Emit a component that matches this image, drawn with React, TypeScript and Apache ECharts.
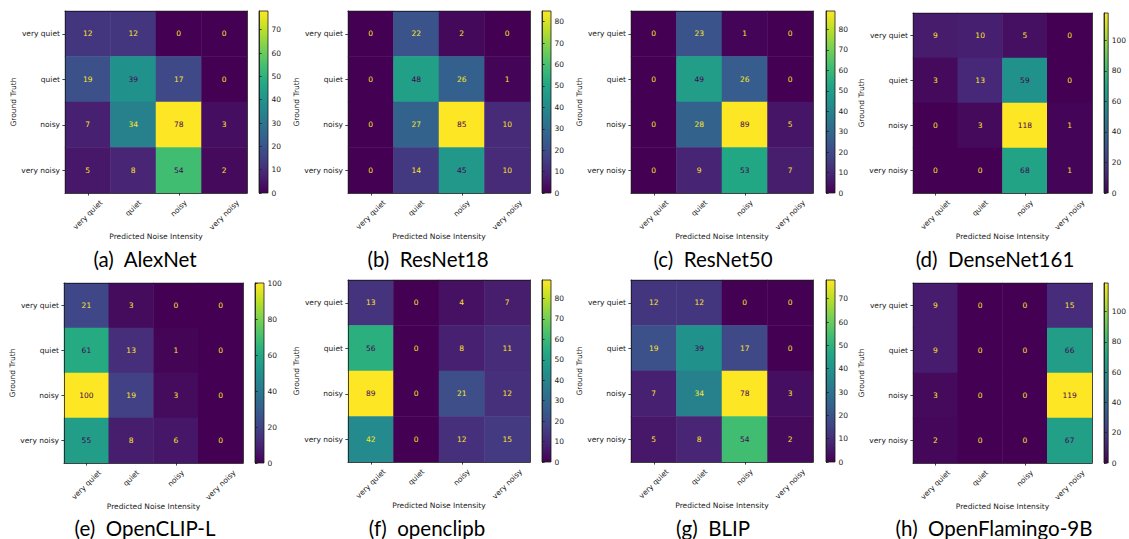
import React, { useEffect, useRef } from "react";
import * as echarts from "echarts";

// ---------------- data ----------------
const CLASSES = ["very quiet", "quiet", "noisy", "very noisy"];
const X_NAME = "Predicted Noise Intensity";
const Y_NAME = "Ground Truth";

const LETTERS = ["(a)", "(b)", "(c)", "(d)", "(e)", "(f)", "(g)", "(h)"];
const MODELS = ["AlexNet", "ResNet18", "ResNet50", "DenseNet161", "OpenCLIP-L", "openclipb", "BLIP", "OpenFlamingo-9B"];

// rows = ground truth, columns = predicted
const ALEXNET = [[12, 12, 0, 0], [19, 39, 17, 0], [7, 34, 78, 3], [5, 8, 54, 2]];
const RESNET18 = [[0, 22, 2, 0], [0, 48, 26, 1], [0, 27, 85, 10], [0, 14, 45, 10]];
const RESNET50 = [[0, 23, 1, 0], [0, 49, 26, 0], [0, 28, 89, 5], [0, 9, 53, 7]];
const DENSENET161 = [[9, 10, 5, 0], [3, 13, 59, 0], [0, 3, 118, 1], [0, 0, 68, 1]];
const OPENCLIP_L = [[21, 3, 0, 0], [61, 13, 1, 0], [100, 19, 3, 0], [55, 8, 6, 0]];
const OPENCLIPB = [[13, 0, 4, 7], [56, 0, 8, 11], [89, 0, 21, 12], [42, 0, 12, 15]];
const BLIP = [[12, 12, 0, 0], [19, 39, 17, 0], [7, 34, 78, 3], [5, 8, 54, 2]];
const OPENFLAMINGO = [[9, 0, 0, 15], [9, 0, 0, 66], [3, 0, 0, 119], [2, 0, 0, 67]];

const MATRICES = [ALEXNET, RESNET18, RESNET50, DENSENET161, OPENCLIP_L, OPENCLIPB, BLIP, OPENFLAMINGO];
const CB_STEPS = [10, 10, 10, 20, 20, 10, 10, 20];

// ---------------- style / layout ----------------
const VIRIDIS = ["#440154", "#482475", "#414487", "#355f8d", "#2a788e", "#21918c", "#22a884", "#44bf70", "#7ad151", "#bddf26", "#fde725"];
const FONT = "DejaVu Sans";
const CAP_FONT = "Lato";
const SMALL = 7.5;
const INK = "#1a1a1a";
const CB_W = 9;

const LAYOUT = [
  { left: 65, top: 11, w: 182, h: 182, cb: 259, capX: 145, capY: 259 },
  { left: 348, top: 11, w: 182, h: 182, cb: 542, capX: 428, capY: 259 },
  { left: 631, top: 11, w: 182, h: 182, cb: 826, capX: 713, capY: 259 },
  { left: 913, top: 13, w: 179, h: 180, cb: 1104, capX: 995, capY: 259 },
  { left: 64, top: 283, w: 179, h: 180, cb: 255, capX: 145, capY: 528 },
  { left: 348, top: 280, w: 182, h: 182, cb: 542, capX: 427, capY: 528 },
  { left: 631, top: 280, w: 182, h: 182, cb: 826, capX: 713, capY: 528 },
  { left: 913, top: 283, w: 179, h: 180, cb: 1104, capX: 994, capY: 528 },
];

export default function App() {
  const ref = useRef<HTMLDivElement>(null);

  useEffect(() => {
    const chart = echarts.init(ref.current!, null, { renderer: "svg" });
    const grid: any[] = [];
    const xAxis: any[] = [];
    const yAxis: any[] = [];
    const series: any[] = [];
    const visualMap: any[] = [];
    const lineStyle = { color: INK, width: 0.8 };
    const heatXAxisIdx: number[] = [];

    MATRICES.forEach((mat, i) => {
      const L = LAYOUT[i];
      const maxV = Math.max(...mat.flat());
      const thresh = maxV / 2;
      const step = CB_STEPS[i];

      const hg = grid.length;
      grid.push({ left: L.left, top: L.top, width: L.w, height: L.h });
      const cg = grid.length;
      grid.push({
        left: L.cb, top: L.top, width: CB_W, height: L.h, show: true,
        backgroundColor: new echarts.graphic.LinearGradient(0, 1, 0, 0,
          VIRIDIS.map((c, k) => ({ offset: k / (VIRIDIS.length - 1), color: c }))),
        borderColor: INK, borderWidth: 0.8,
      });

      const xi = xAxis.length;
      heatXAxisIdx.push(xi);
      xAxis.push({
        type: "category", gridIndex: hg, data: CLASSES, position: "bottom", z: 5,
        axisLine: { show: true, lineStyle },
        axisTick: { show: true, alignWithLabel: true, length: 2.6, lineStyle },
        axisLabel: { show: false },
        splitLine: { show: false },
        name: X_NAME, nameLocation: "middle", nameGap: 39,
        nameTextStyle: { fontSize: SMALL, fontFamily: FONT, color: INK },
      });
      xAxis.push({
        type: "value", gridIndex: hg, position: "top", min: 0, max: 1, z: 5,
        axisLine: { show: true, lineStyle }, axisTick: { show: false },
        axisLabel: { show: false }, splitLine: { show: false },
      });
      xAxis.push({ type: "value", gridIndex: cg, show: false, min: 0, max: 1 });

      const yi = yAxis.length;
      yAxis.push({
        type: "category", gridIndex: hg, data: CLASSES, inverse: true, position: "left", z: 5,
        axisLine: { show: true, lineStyle },
        axisTick: { show: true, alignWithLabel: true, length: 2.6, lineStyle },
        axisLabel: { fontSize: SMALL, fontFamily: FONT, color: INK, margin: 5 },
        splitLine: { show: false },
        name: Y_NAME, nameLocation: "middle", nameGap: 48,
        nameTextStyle: { fontSize: SMALL, fontFamily: FONT, color: INK },
      });
      yAxis.push({
        type: "value", gridIndex: hg, position: "right", min: 0, max: 1, z: 5,
        axisLine: { show: true, lineStyle }, axisTick: { show: false },
        axisLabel: { show: false }, splitLine: { show: false },
      });
      const ticks: number[] = [];
      for (let v = 0; v <= maxV; v += step) ticks.push(v);
      yAxis.push({
        type: "value", gridIndex: cg, position: "right", min: 0, max: maxV, interval: step,
        axisLine: { show: true, lineStyle },
        axisTick: { show: true, length: 2.6, lineStyle, customValues: ticks },
        axisLabel: {
          fontSize: SMALL, fontFamily: FONT, color: INK, margin: 3.5, customValues: ticks,
          showMaxLabel: true, showMinLabel: true,
        },
        splitLine: { show: false },
      });

      const data: any[] = [];
      mat.forEach((row, r) =>
        row.forEach((v, c) =>
          data.push({
            value: [c, r, v],
            label: { color: v < thresh ? VIRIDIS[VIRIDIS.length - 1] : VIRIDIS[0] },
          })
        )
      );
      series.push({
        type: "heatmap", xAxisIndex: xi, yAxisIndex: yi, data,
        label: { show: true, fontSize: SMALL, fontFamily: FONT, formatter: (p: any) => String(p.value[2]) },
        emphasis: { disabled: true },
      });
      visualMap.push({
        type: "continuous", show: false, seriesIndex: series.length - 1, dimension: 2,
        min: 0, max: maxV, inRange: { color: VIRIDIS },
      });
    });

    chart.setOption({ animation: false, grid, xAxis, yAxis, series, visualMap });

    // rotated x tick labels (centred on the tick like matplotlib) and captions
    const ctx = document.createElement("canvas").getContext("2d")!;
    ctx.font = `${SMALL}px "${FONT}"`;
    const graphics: any[] = [];
    MATRICES.forEach((_, i) => {
      const L = LAYOUT[i];
      CLASSES.forEach((cls) => {
        const px = chart.convertToPixel({ xAxisIndex: heatXAxisIdx[i] } as any, cls) as unknown as number;
        const w = ctx.measureText(cls).width;
        const h = 8.7;
        const cy = L.top + L.h + 5.2 + (0.7071 * (w + h)) / 2;
        graphics.push({
          type: "text", x: px, y: cy, rotation: Math.PI / 4,
          style: {
            text: cls, fontSize: SMALL, fontFamily: FONT, fill: INK,
            align: "center", verticalAlign: "middle", textAlign: "center", textVerticalAlign: "middle",
          },
        });
      });
      graphics.push({
        type: "text", x: L.capX, y: L.capY,
        style: {
          text: `${LETTERS[i]}\u00a0 ${MODELS[i]}`, fontSize: 20.5, fontFamily: CAP_FONT, fill: "#000",
          align: "center", verticalAlign: "middle", textAlign: "center", textVerticalAlign: "middle",
        },
      });
    });
    chart.setOption({ graphic: graphics });

    return () => chart.dispose();
  }, []);

  return (
    <div
      ref={ref}
      style={{ position: "fixed", left: 0, top: 0, width: 1129, height: 539, background: "#fff" }}
    />
  );
}
